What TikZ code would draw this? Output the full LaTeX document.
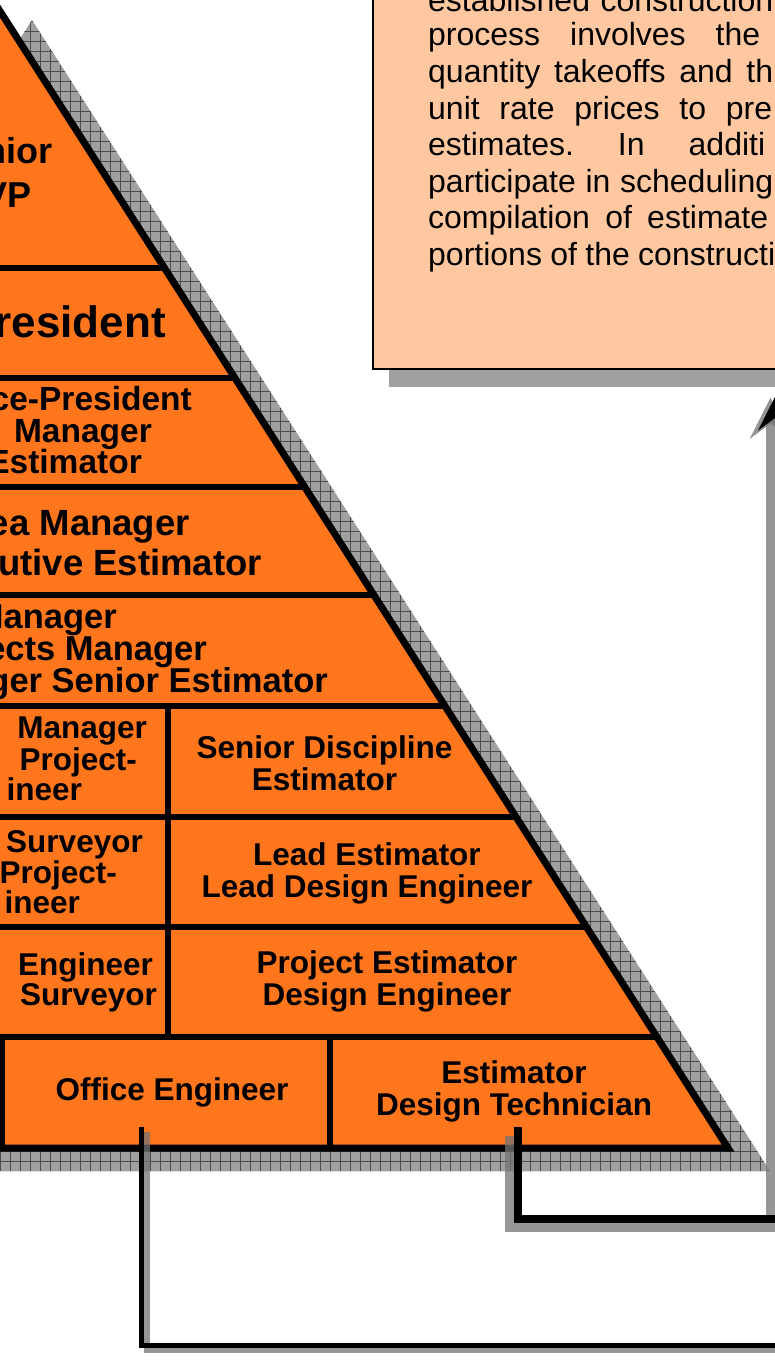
\documentclass[tikz,border=0pt]{standalone}
\usepackage{fontspec}
\setmainfont{Liberation Sans}
\usetikzlibrary{arrows.meta, patterns.meta, shadows}

\definecolor{pyramidorange}{HTML}{FF761C}
\definecolor{notepeach}{HTML}{FFC8A0}
\definecolor{shadegray}{HTML}{A0A0A0}

\begin{document}
\begin{tikzpicture}[x=1pt, y=-1pt,
    grid shadow/.style={preaction={fill=shadegray}, pattern={Hatch[distance=10pt, line width=0.8pt]}, pattern color=black!70},
    tier/.style={line width=5.5pt},
    rank/.style={inner sep=0pt, align=center, anchor=base, font=\bfseries\fontsize{31.5}{31.5}\selectfont},
    cut/.style={inner sep=0pt, anchor=base east},
    notetext/.style={inner sep=0pt, anchor=base west, font=\fontsize{32}{36.7}\selectfont\frenchspacing},
    wire/.style={draw=black, line join=miter},
    wire shadow/.style={draw=black!55, opacity=0.75}]

  \useasboundingbox (0, 0) rectangle (775, 1361);
  \clip (0, 0) rectangle (775, 1361);

  % note box, cut off at the top and on the right
  \node (note) [draw, line width=2pt, fill=notepeach, outer sep=0pt, minimum width=600pt, minimum height=500pt, anchor=south west,
    drop shadow={shadow xshift=16pt, shadow yshift=-18pt, fill=shadegray, opacity=1}] at (373, 369) {};
  \foreach \w/\y/\t in {345/11/established construction, 332/45/process involves the, 345/82/quantity takeoffs and th,
      344/119/unit rate prices to pre, 337/155/estimates. In additi, 345/192/participate in scheduling,
      340/228/compilation of estimate, 347/265/portions of the constructi}
    \node (note\y) [notetext] at (428, \y) {\makebox[\w pt][s]{\t}};

  % pyramid
  \fill[grid shadow] (32, 20) -- (770, 1171) -- (-706, 1171) -- cycle;
  \coordinate (apex) at (-2, 8);
  \coordinate (baseR) at (728, 1148);
  \coordinate (baseL) at (-732, 1148);
  \fill[pyramidorange] (apex) -- (baseR) -- (baseL) -- cycle;
  \begin{scope}
    \clip (apex) -- (baseR) -- (baseL) -- cycle;
    \foreach \y in {268, 378, 487, 595, 706, 817, 927, 1037}
      \draw[tier] (-800, \y) -- (800, \y);
  \end{scope}
  \draw[tier] (168, 706) -- (168, 1037) (2, 1037) -- (2, 1148) (330, 1037) -- (330, 1148);
  \draw[line width=7pt] (apex) -- (baseR) -- (baseL) -- cycle;

  % rows cut off on the left: right end / baseline / size / text
  \foreach \x/\y/\s/\t in {53/163/36/nior, 32/207/36/VP, 166/337/44/resident,
      192/410/33.5/ce-President, 152/442/33.5/Manager, 142/473/33.5/Estimator,
      190/535/36.5/ea Manager, 262/575/36.5/utive Estimator,
      117/628/34.5/Manager, 207/660/34.5/ects Manager, 328/692/34.5/ger Senior Estimator,
      147/738/31.5/Manager, 137/770/31.5/Project-, 82/800/31.5/ineer,
      143/852/31.5/Surveyor, 117/883/31.5/Project-, 80/913/31.5/ineer,
      153/975/31.5/Engineer, 157/1005/31.5/Surveyor}
    \node (cut\y) [cut, font=\bfseries\fontsize{\s}{\s}\selectfont] at (\x, \y) {\t};

  % base of a two-line node is its last line
  \node (discipline) [rank] at (324.5, 790) {Senior Discipline\\Estimator};
  \node (lead)       [rank] at (367, 897)   {Lead Estimator\\Lead Design Engineer};
  \node (project)    [rank] at (387, 1005)  {Project Estimator\\Design Engineer};
  \node (office)     [rank] at (172, 1100)  {Office Engineer};
  \node (technician) [rank] at (514, 1115)  {Estimator\\Design Technician};

  % connectors
  \coordinate (officeport) at (141, 1127);
  \coordinate (officeexit) at (790, 1345);
  \coordinate (techport) at (518, 1127);
  \coordinate (turn) at (779, 1219);
  \coordinate (noteport) at (779, 389);
  \draw[wire shadow, line width=6pt, transform canvas={xshift=5.5pt, yshift=-5pt}] (officeport) |- (officeexit);
  \draw[wire shadow, line width=9pt, -{Stealth[length=41pt, width=41pt, inset=15pt]},
    transform canvas={xshift=-8.5pt, yshift=-8.5pt}] (techport) |- (turn) -- (noteport);
  \draw[wire, line width=5pt] (officeport) |- (officeexit);
  \draw[wire, line width=8pt, -{Stealth[length=41pt, width=41pt, inset=15pt]}] (techport) |- (turn) -- (noteport);
\end{tikzpicture}
\end{document}
